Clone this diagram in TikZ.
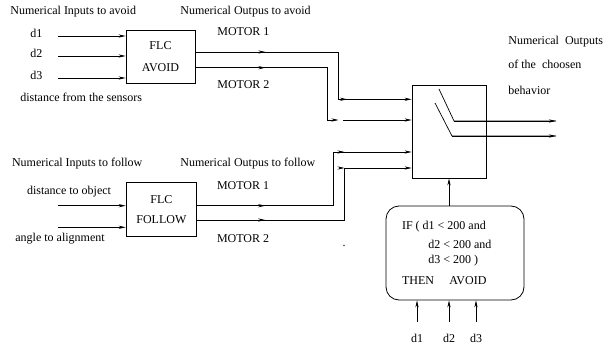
\documentclass[tikz,border=0pt]{standalone}
\usepackage{fontspec}
\setmainfont{Liberation Serif}
\usetikzlibrary{arrows.meta,decorations.markings}
\begin{document}
\begin{tikzpicture}[x=1pt,y=-1pt,
  >={Stealth[length=7pt,width=3.2pt]},
  line width=0.7pt,
  every node/.style={font=\fontsize{12}{14}\selectfont, inner sep=0pt},
  lbl/.style={anchor=west},
  box/.style={draw, line width=0.8pt, align=center},
  rulebox/.style={draw, line width=0.8pt, rounded corners=13pt, minimum width=138pt, minimum height=94pt},
  markat/.style={postaction={decorate}, decoration={markings, mark=at position #1 with {\arrow{>}}}},
  markat2/.style 2 args={postaction={decorate}, decoration={markings, mark=at position #1 with {\arrow{>}}, mark=at position #2 with {\arrow{>}}}}
]
\useasboundingbox (0,0) rectangle (611,350);

% ---------- AVOID part ----------
\node[lbl] (tia) at (10,12) {Numerical Inputs to avoid};
\node[lbl] (toa) at (180,12) {Numerical Outpus to avoid};
\node[box, minimum width=69pt, minimum height=53pt] (avoid) at (160.5,56.5) {FLC\\[8pt]AVOID};
\node (d1a) at (36.5,33) {d1};
\node (d2a) at (36.5,53) {d2};
\node (d3a) at (36.5,75) {d3};
\node[lbl] (dfs) at (20,97) {distance from the sensors};
\node[lbl] (m1a) at (217,32) {MOTOR 1};
\node[lbl] (m2a) at (217,85) {MOTOR 2};

\coordinate (ia1) at (58,36);
\coordinate (ia2) at (58,56);
\coordinate (ia3) at (58,78);
\draw[->] (ia1) -- (avoid.west |- ia1);
\draw[->] (ia2) -- (avoid.west |- ia2);
\draw[->] (ia3) -- (avoid.west |- ia3);

% ---------- switch ----------
\node[draw, line width=0.8pt, minimum width=74pt, minimum height=93pt] (sw) at (449,131.5) {};
\draw (439,89) -- (454,121) coordinate (s1) -- (556,121) coordinate (o1);
\draw[->] (s1) -- (o1);
\draw (435,103) -- (452,136) coordinate (s2) -- (556,136) coordinate (o2);
\draw[->] (s2) -- (o2);
\node[lbl] (no1) at (508,41.7) {Numerical\ \ Outputs};
\node[lbl] (no2) at (508,64.3) {of the\ \ choosen};
\node[lbl] (no3) at (508,90) {behavior};

% avoid outputs
\coordinate (a1c) at (338,52);
\coordinate (a1d) at (338,99.3);
\draw[->, markat2={70pt}{199pt}] (avoid.east |- a1c) -- (a1c) -- (a1d) -- (sw.west |- a1d);
\coordinate (a2c) at (327.7,67.7);
\coordinate (a2d) at (327.7,120);
\coordinate (a2e) at (338.5,120);
\coordinate (a2f) at (343,120);
\draw[->, markat={70pt}] (avoid.east |- a2c) -- (a2c) -- (a2d) -- (a2e);
\draw[->] (a2f) -- (sw.west |- a2f);

% ---------- FOLLOW part ----------
\node[lbl] (tif) at (11.7,164) {Numerical Inputs to follow};
\node[lbl] (tof) at (180,164) {Numerical Outpus to follow};
\node[box, minimum width=70.7pt, minimum height=54pt] (follow) at (161.4,209.7) {FLC\\[6pt]FOLLOW};
\node[lbl] (dto) at (26.7,191.7) {distance to object};
\node[lbl] (ata) at (15,238.3) {angle to alignment};
\node[lbl] (m1f) at (216.7,185.7) {MOTOR 1};
\node[lbl] (m2f) at (216.7,238.3) {MOTOR 2};
\node (dot) at (344,246) {.};

\coordinate (if1) at (58,205.7);
\coordinate (if2) at (58,227.3);
\draw[->] (if1) -- (follow.west |- if1);
\draw[->] (if2) -- (follow.west |- if2);

\coordinate (f1c) at (333,205.7);
\coordinate (f1d) at (333,152);
\draw[->, markat2={68pt}{201pt}] (follow.east |- f1c) -- (f1c) -- (f1d) -- (sw.west |- f1d);
\coordinate (f2c) at (344,220);
\coordinate (f2d) at (344,168);
\draw[->, markat2={68pt}{199.3pt}] (follow.east |- f2c) -- (f2c) -- (f2d) -- (sw.west |- f2d);

% ---------- rule box ----------
\node[rulebox] (rule) at (455,253) {};
\node[lbl] (r1) at (401.7,227) {IF ( d1 < 200 and};
\node[lbl] (r2) at (428,244) {d2 < 200 and};
\node[lbl] (r3) at (428,260.7) {d3 < 200 )};
\node[lbl] (r4) at (401.7,280.7) {THEN};
\node[lbl] (r5) at (449,280.7) {AVOID};
\coordinate (ru) at (449,206);
\draw[->] (rule.north -| ru) -- (sw.south -| ru);

\node (b1) at (417,338) {d1};
\node (b2) at (449,338) {d2};
\node (b3) at (476,338) {d3};
\draw[->] ([yshift=11.5pt]b1.north) -- (rule.south -| b1);
\draw[->] ([yshift=11.5pt]b2.north) -- (rule.south -| b2);
\draw[->] ([yshift=11.5pt]b3.north) -- (rule.south -| b3);
\end{tikzpicture}
\end{document}
